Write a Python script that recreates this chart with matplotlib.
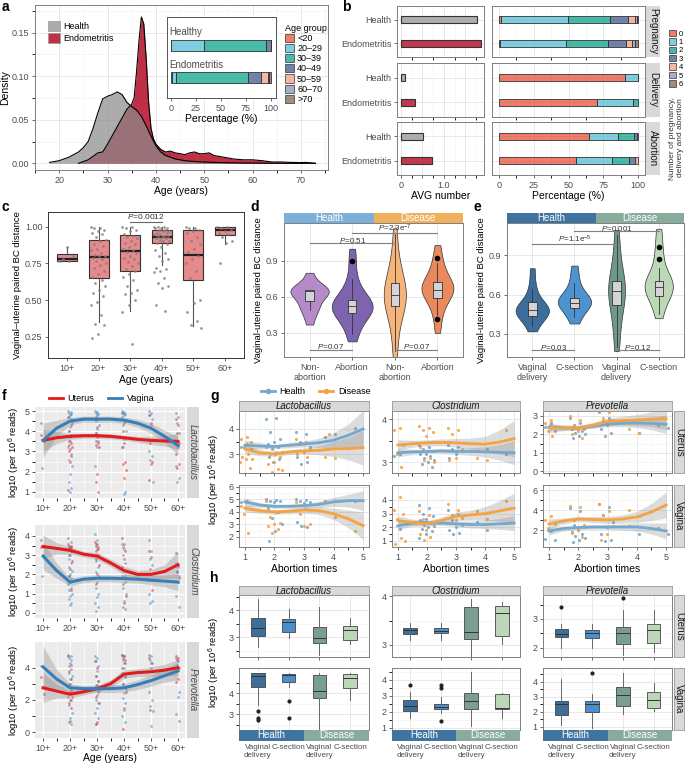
import numpy as np
import matplotlib
matplotlib.use('Agg')
import matplotlib.pyplot as plt
from matplotlib.patches import Patch
from matplotlib.lines import Line2D
from matplotlib.ticker import FixedLocator
from matplotlib.colors import to_rgba

plt.rcParams['font.family'] = ['Liberation Sans', 'DejaVu Sans']
plt.rcParams['mathtext.fontset'] = 'custom'
plt.rcParams['mathtext.rm'] = 'Liberation Sans'
plt.rcParams['mathtext.it'] = 'Liberation Sans:italic'
plt.rcParams['font.size'] = 6.5
plt.rcParams['axes.labelsize'] = 7.5
plt.rcParams['axes.labelpad'] = 2

# ---------------- a: age density + age group share
health_age = [18, 20, 22, 24, 25, 26, 27, 28, 29, 30, 31, 32, 33, 34, 35, 36, 37, 38, 39, 40, 41, 42,
              44, 46, 48, 50, 52, 55, 58, 62, 66, 70, 73]
health_dens = [0.001, 0.003, 0.007, 0.013, 0.018, 0.025, 0.04, 0.058, 0.074, 0.077, 0.079, 0.082,
               0.079, 0.07, 0.065, 0.061, 0.054, 0.043, 0.031, 0.02, 0.013, 0.009,
               0.005, 0.003, 0.002, 0.0015, 0.001, 0.0006, 0.0003, 0.0001, 0, 0, 0]
endo_age = [24, 25, 26, 27, 28, 29, 30, 31, 32, 33, 34, 35, 35.5, 36, 36.5, 37, 37.5, 38, 38.5, 39, 39.5,
            40, 41, 42, 43, 44, 45, 46, 47, 48, 49, 50, 51, 52, 54, 56, 58, 60, 62, 64, 66, 68, 70, 71, 73]
endo_dens = [0, 0.002, 0.004, 0.008, 0.012, 0.013, 0.022, 0.032, 0.042, 0.052, 0.062,
             0.068, 0.075, 0.105, 0.14, 0.168, 0.16, 0.12, 0.07, 0.04, 0.028, 0.022,
             0.016, 0.013, 0.014, 0.012, 0.011, 0.010, 0.012, 0.013, 0.011, 0.011, 0.012, 0.009,
             0.007, 0.005, 0.004, 0.004, 0.003, 0.0015, 0.0015, 0.001, 0.0008, 0.001, 0]
age_groups = ['<20', '20–29', '30–39', '40–49', '50–59', '60–70', '>70']
healthy_age_pct = [0, 32.7, 62.6, 4.7, 0, 0, 0]
endo_age_pct = [1.0, 3.7, 72.3, 13.0, 6.6, 1.7, 1.7]

# ---------------- b: pregnancy / delivery / abortion
b_groups = ['Health', 'Endometritis']
b_facets = ['Pregnancy', 'Delivery', 'Abortion']
avg_preg = [1.77, 1.86]
avg_deliv = [0.10, 0.33]
avg_abort = [0.52, 0.73]
preg_pct_h = [1.2, 48.3, 30.5, 13.0, 5.0, 1.0, 1.0]
preg_pct_e = [0.7, 47.2, 30.6, 12.8, 4.2, 2.4, 2.1]
deliv_pct_h = [90.8, 9.2, 0, 0, 0, 0, 0]
deliv_pct_e = [70.8, 25.7, 3.5, 0, 0, 0, 0]
abort_pct_h = [64.6, 21.0, 11.4, 2.0, 1.0, 0, 0]
abort_pct_e = [55.4, 25.6, 12.4, 4.6, 2.0, 0, 0]
count_labels = ['0', '1', '2', '3', '4', '5', '6']

# ---------------- c: BC distance by age
c_ages = ['10+', '20+', '30+', '40+', '50+', '60+']
c_box = [[0.765, 0.77, 0.78, 0.815, 0.86], [0.35, 0.65, 0.795, 0.91, 1.0], [0.43, 0.70, 0.835, 0.945, 1.0],
         [0.74, 0.89, 0.93, 0.98, 1.0], [0.325, 0.635, 0.81, 0.975, 1.0], [0.88, 0.945, 0.98, 1.0, 1.0]]
c_pts = [[0.77, 0.77, 0.78, 0.80, 0.86],
         [1.0, 0.99, 0.99, 0.98, 0.97, 0.96, 0.95, 0.93, 0.91, 0.9, 0.88, 0.87, 0.85, 0.84, 0.82, 0.81,
          0.8, 0.8, 0.79, 0.78, 0.77, 0.75, 0.74, 0.72, 0.7, 0.68, 0.66, 0.64, 0.62, 0.6, 0.57, 0.55,
          0.53, 0.49, 0.47, 0.4, 0.34, 0.33, 0.27, 0.24],
         [1.0, 1.0, 0.99, 0.98, 0.97, 0.95, 0.94, 0.93, 0.92, 0.9, 0.89, 0.88, 0.86, 0.85, 0.84, 0.83,
          0.82, 0.8, 0.79, 0.78, 0.76, 0.75, 0.73, 0.71, 0.7, 0.68, 0.66, 0.64, 0.6, 0.57, 0.55, 0.54,
          0.5, 0.47, 0.42, 0.2],
         [1.0, 1.0, 1.0, 0.99, 0.99, 0.99, 0.98, 0.98, 0.97, 0.97, 0.96, 0.96, 0.95, 0.95, 0.94, 0.94,
          0.93, 0.93, 0.92, 0.92, 0.91, 0.9, 0.9, 0.89, 0.88, 0.86, 0.84, 0.82, 0.8, 0.78, 0.77, 0.72,
          0.71, 0.7, 0.69, 0.65, 0.62, 0.6, 0.58, 0.47, 0.43],
         [1.0, 0.99, 0.99, 0.98, 0.97, 0.96, 0.93, 0.9, 0.88, 0.85, 0.83, 0.8, 0.78, 0.75, 0.7, 0.65,
          0.5, 0.48, 0.42, 0.36, 0.33, 0.31],
         [1.0, 1.0, 0.99, 0.98, 0.97, 0.96, 0.95, 0.93, 0.9, 0.89, 0.75]]

# ---------------- d: abortion violins
d_labels = ['Non-\nabortion', 'Abortion', 'Non-\nabortion', 'Abortion']
d_samples = [[0.37, 0.45, 0.49, 0.52, 0.55, 0.58, 0.62, 0.64, 0.645, 0.65, 0.655, 0.66, 0.68, 0.72, 0.80],
             [0.23, 0.3, 0.36, 0.41, 0.45, 0.47, 0.49, 0.5, 0.51, 0.52, 0.53, 0.54, 0.55, 0.57, 0.6,
              0.64, 0.7, 0.77, 0.9, 1.0],
             [0.1, 0.25, 0.38, 0.45, 0.5, 0.53, 0.56, 0.59, 0.62, 0.65, 0.68, 0.71, 0.75, 0.8, 0.88,
              0.98, 1.17],
             [0.3, 0.42, 0.5, 0.56, 0.6, 0.63, 0.65, 0.66, 0.67, 0.68, 0.7, 0.72, 0.75, 0.8, 0.86,
              0.92, 1.03]]
d_box = [[0.49, 0.567, 0.645, 0.655, 0.66], [0.29, 0.465, 0.52, 0.57, 0.75],
         [0.15, 0.528, 0.615, 0.713, 1.12], [0.45, 0.59, 0.66, 0.72, 0.88]]
d_out = [[], [0.9], [], [0.92, 0.42]]

# ---------------- e: delivery mode violins
e_labels = ['Vaginal\ndelivery', 'C-section', 'Vaginal\ndelivery', 'C-section']
e_samples = [[0.32, 0.38, 0.42, 0.44, 0.46, 0.47, 0.48, 0.49, 0.5, 0.52, 0.55, 0.6, 0.68, 0.8],
             [0.38, 0.44, 0.48, 0.51, 0.53, 0.54, 0.55, 0.56, 0.58, 0.61, 0.66, 0.73, 0.82],
             [0.17, 0.3, 0.42, 0.5, 0.55, 0.6, 0.63, 0.66, 0.7, 0.75, 0.82, 0.95, 1.09],
             [0.42, 0.52, 0.58, 0.62, 0.65, 0.66, 0.67, 0.69, 0.72, 0.76, 0.87, 0.96, 1.1]]
e_box = [[0.36, 0.44, 0.48, 0.54, 0.64], [0.43, 0.50, 0.535, 0.57, 0.69],
         [0.2, 0.52, 0.63, 0.70, 1.05], [0.45, 0.59, 0.66, 0.70, 0.8]]
e_out = [[], [], [], [0.96, 0.87]]

# ---------------- f: genus abundance by age
genera = ['Lactobacillus', 'Clostridium', 'Prevotella']
f_lac_va = [[4.4, 3.6, 2.2],
            [5.0, 4.95, 4.9, 4.85, 4.8, 4.7, 4.6, 4.5, 4.4, 4.2, 4.0, 3.8, 3.5, 3.2, 2.9, 2.6, 2.3, 1.9, 1.5, 1.2, 1.0],
            [5.0, 4.95, 4.9, 4.85, 4.8, 4.7, 4.6, 4.5, 4.3, 4.1, 3.9, 3.5, 3.2, 2.3],
            [5.0, 4.95, 4.9, 4.85, 4.8, 4.7, 4.5, 4.3, 4.0, 3.6, 3.2, 1.0, 0.9],
            [5.0, 4.9, 4.8, 4.6, 4.3, 3.0, 2.8, 2.6, 1.5],
            [4.9, 4.7, 4.4, 3.9, 3.3, 2.3, 1.7, 1.5]]
f_lac_ut = [[3.8, 3.5],
            [4.7, 4.3, 4.0, 3.8, 3.7, 3.5, 3.4, 3.3, 3.2, 3.1, 3.0, 2.8, 2.5, 1.1],
            [4.6, 4.2, 3.9, 3.8, 3.7, 3.5, 3.4, 3.3, 3.2, 1.9, 1.5, 1.0],
            [4.9, 4.4, 4.0, 3.7, 3.4, 3.2, 2.5, 2.4, 2.1, 1.7],
            [4.8, 4.4, 3.4, 2.5, 2.4, 1.6],
            [4.6, 4.3, 3.9, 3.4, 3.2, 2.9, 2.4, 2.2]]
f_clo_va = [[3.8, 3.4, 1.9],
            [3.9, 3.7, 3.5, 3.2, 3.0, 2.8, 2.6, 2.4, 2.2, 2.0, 1.9, 1.8, 1.6, 1.5, 1.3, 1.2, 1.0, 0.9, 0.7, 0.5, 0.4],
            [4.1, 3.8, 3.6, 3.3, 3.0, 2.7, 2.4, 2.1, 1.9, 1.6, 1.3, 1.0, 0.8, 0.5, 0.3, 0.1],
            [3.6, 3.3, 3.0, 2.6, 2.2, 1.9, 1.6, 1.3, 1.0, 0.6, 0.3, 0.2],
            [3.8, 3.2, 2.8, 2.5, 1.7, 1.0, 0.6, 0.5],
            [2.6, 2.4, 2.2, 1.9, 1.6, 0.9, 0.3]]
f_clo_ut = [[3.45],
            [3.6, 3.5, 3.45, 3.4, 3.35, 3.3, 3.2, 3.0, 2.7, 2.3, 1.9, 1.2],
            [3.7, 3.6, 3.5, 3.4, 3.3, 3.2, 3.0, 2.8, 2.5, 2.0, 1.5],
            [3.9, 3.6, 3.4, 3.2, 2.8, 2.4, 1.9, 1.5, 0.9, 0.5],
            [3.2, 2.9, 2.3, 1.2],
            [3.1, 2.5, 2.1, 1.8]]
f_pre_va = [[4.1],
            [4.8, 4.7, 4.6, 4.5, 4.3, 4.1, 3.9, 3.7, 3.5, 3.3, 3.0, 2.8, 2.5, 2.2, 2.0, 1.7, 1.2, 0.9, 0.6, 0.5],
            [4.7, 4.6, 4.4, 4.1, 3.8, 3.5, 3.2, 2.9, 2.6, 2.3, 2.0, 1.8, 1.5, 1.2, 0.9, 0.5],
            [4.8, 4.7, 4.5, 4.3, 4.0, 3.7, 3.4, 3.0, 2.7, 2.4, 2.1, 1.8, 1.4, 1.0, 0.6],
            [4.8, 4.7, 4.5, 4.3, 4.0, 2.5, 2.0, 1.6, 1.3, 0.4],
            [4.6, 4.4, 4.2, 2.5, 2.2, 1.1, 0.7]]
f_pre_ut = [[3.4, 2.35],
            [4.7, 4.2, 3.8, 3.3, 3.0, 2.8, 2.6, 2.4, 2.2, 2.0, 1.8, 1.5, 0.7],
            [4.4, 4.0, 3.5, 3.2, 2.9, 2.7, 2.5, 2.2, 1.8, 0.6, 0.5],
            [4.8, 4.7, 4.6, 4.5, 4.3, 4.0, 3.5, 3.0, 2.5, 1.5, 0.2],
            [4.6, 4.3, 1.4],
            [4.7, 4.6, 4.5, 4.0, 3.3, 3.1]]
# smooth fits read at ages 10+ ... 60+ in half steps
f_lac_ut_fit = [3.55, 3.68, 3.75, 3.78, 3.78, 3.75, 3.68, 3.6, 3.55, 3.52, 3.5]
f_lac_ut_ci = [0.55, 0.3, 0.15, 0.12, 0.12, 0.12, 0.12, 0.15, 0.2, 0.25, 0.4]
f_lac_va_fit = [3.55, 4.15, 4.5, 4.6, 4.6, 4.6, 4.55, 4.4, 4.15, 3.75, 3.3]
f_lac_va_ci = [0.85, 0.4, 0.18, 0.15, 0.15, 0.15, 0.15, 0.2, 0.25, 0.3, 0.45]
f_clo_ut_fit = [3.45, 3.35, 3.25, 3.05, 2.95, 2.6, 2.2, 2.0, 2.0, 2.15, 2.5]
f_clo_ut_ci = [0.6, 0.3, 0.2, 0.15, 0.18, 0.2, 0.22, 0.2, 0.25, 0.35, 0.7]
f_clo_va_fit = [2.95, 2.2, 1.6, 1.75, 1.8, 1.8, 1.78, 1.75, 1.7, 1.65, 1.6]
f_clo_va_ci = [0.7, 0.4, 0.2, 0.18, 0.18, 0.18, 0.2, 0.2, 0.25, 0.3, 0.45]
f_pre_ut_fit = [2.75, 2.55, 2.35, 2.5, 2.7, 3.0, 3.6, 3.7, 3.75, 3.85, 4.0]
f_pre_ut_ci = [0.9, 0.45, 0.2, 0.2, 0.2, 0.25, 0.25, 0.25, 0.3, 0.35, 0.5]
f_pre_va_fit = [4.05, 3.3, 2.75, 2.7, 2.7, 2.7, 2.75, 2.95, 3.2, 3.5, 3.8]
f_pre_va_ci = [1.3, 0.6, 0.25, 0.2, 0.22, 0.25, 0.25, 0.3, 0.35, 0.4, 0.55]

# ---------------- g: abundance vs abortion times (values grouped by times 1..5)
g_lac_ut_h = [[3.5, 3.4, 3.3, 3.2], [4.4, 4.45, 3.9, 3.6, 3.5, 3.4, 3.3, 3.2, 3.1, 3.0, 2.9, 2.8, 2.7],
              [3.9, 3.8, 3.5, 3.3, 3.1, 2.9, 2.7, 2.6], [3.7, 3.8], [4.05]]
g_lac_ut_d = [[3.8, 3.7, 3.6, 3.5, 3.3, 3.2, 3.0, 2.9, 2.8, 2.8, 2.7, 2.45],
              [3.3, 3.1, 3.0, 2.9, 2.7, 2.6, 2.4, 2.3, 2.35], [3.6, 3.5, 3.4, 3.2, 3.1, 3.0, 2.9],
              [2.9, 2.85, 3.8], []]
g_clo_ut_h = [[3.3, 3.2, 3.15], [3.4, 3.35, 3.3, 3.25, 3.2, 3.2, 3.15, 3.1, 3.05, 3.0, 2.95, 2.9],
              [3.4, 3.35, 3.3, 3.25, 3.2, 3.1], [3.25, 3.3], [3.2]]
g_clo_ut_d = [[3.85, 3.8, 3.75, 3.4, 3.2, 3.1, 2.9], [3.85, 3.8, 3.75, 3.7, 3.6, 3.35, 3.1, 3.05, 3.0],
              [3.8, 3.75, 3.65, 3.3, 3.1, 3.05], [3.1, 3.05], [3.75]]
g_pre_ut_h = [[2.9, 2.6, 2.4, 2.2], [2.9, 2.6, 2.5, 2.4, 2.35, 2.3, 2.2, 2.1, 2.0, 1.9, 1.8],
              [3.2, 2.9, 2.7, 2.6, 2.5, 2.3, 2.1, 1.9], [3.45, 2.1], [2.5, 2.35]]
g_pre_ut_d = [[3.7, 2.8, 2.6, 2.4, 2.2, 2.0, 1.9], [3.0, 2.8, 2.5, 2.3, 2.2, 2.0, 1.8],
              [3.3, 3.2, 2.9, 2.8, 2.6], [2.3, 2.1], [3.3]]
g_lac_va_h = [[5.0, 4.9, 4.8], [5.0, 4.95, 4.9, 4.85, 4.8, 4.3, 4.0, 3.5, 3.0, 2.5, 1.7],
              [5.0, 4.95, 4.9, 4.8, 4.7, 3.2, 2.8, 2.9], [4.9, 4.85], [4.9]]
g_lac_va_d = [[5.0, 4.8, 4.5, 4.2, 3.8, 2.7, 2.35], [4.9, 4.0, 3.6, 3.1, 3.0, 2.9, 2.6, 2.3],
              [4.8, 4.2, 3.8, 3.0, 2.9], [4.9, 3.6], [2.5]]
g_clo_va_h = [[2.0, 1.9], [3.6, 3.4, 3.0, 2.8, 2.6, 2.5, 2.3, 2.2, 2.1, 2.0, 1.9, 1.7, 1.5, 1.2],
              [3.3, 3.0, 2.5, 2.2, 2.0, 1.8, 1.6, 1.5], [2.4, 1.8], [2.3]]
g_clo_va_d = [[4.5, 4.2, 3.3, 3.0, 2.6, 2.2, 1.2, 0.8, 1.0], [3.2, 2.9, 2.6, 2.3, 1.8, 1.5, 1.3, 1.1],
              [3.7, 3.3, 2.9, 2.7, 2.5], [3.2, 2.6], [3.9]]
g_pre_va_h = [[2.4, 1.9, 1.1, 1.0], [4.2, 3.9, 2.5, 2.3, 2.0, 1.8, 1.6, 1.4, 1.2, 1.0, 0.8],
              [4.6, 4.3, 3.5, 2.8, 2.3, 1.6, 1.0, 0.9], [2.4, 1.6], [2.2, 1.6]]
g_pre_va_d = [[3.8, 3.4, 3.0, 2.6, 2.2, 1.8], [4.4, 4.3, 3.0, 2.5, 2.0, 1.7, 1.3],
              [4.6, 3.9, 3.5, 2.4, 1.6, 1.0], [4.0, 3.4], []]
# smooth fits read at abortion times 1 ... 5 in half steps
g_lac_ut_h_fit = [3.35, 3.32, 3.3, 3.35, 3.4, 3.45, 3.55, 3.75, 4.0]
g_lac_ut_h_ci = [0.2, 0.12, 0.08, 0.1, 0.12, 0.18, 0.3, 0.45, 0.75]
g_lac_ut_d_fit = [3.2, 3.05, 3.0, 3.08, 3.12, 3.15, 3.2, 3.22, 3.25]
g_lac_ut_d_ci = [0.18, 0.12, 0.1, 0.1, 0.12, 0.18, 0.3, 0.45, 0.7]
g_clo_ut_h_fit = [3.22, 3.24, 3.25, 3.26, 3.25, 3.25, 3.24, 3.23, 3.22]
g_clo_ut_h_ci = [0.1, 0.06, 0.05, 0.06, 0.07, 0.09, 0.12, 0.18, 0.28]
g_clo_ut_d_fit = [3.4, 3.43, 3.45, 3.46, 3.45, 3.43, 3.42, 3.47, 3.55]
g_clo_ut_d_ci = [0.12, 0.08, 0.07, 0.08, 0.1, 0.13, 0.18, 0.28, 0.42]
g_pre_ut_h_fit = [2.4, 2.35, 2.35, 2.45, 2.55, 2.6, 2.62, 2.6, 2.55]
g_pre_ut_h_ci = [0.2, 0.12, 0.1, 0.12, 0.14, 0.18, 0.25, 0.35, 0.5]
g_pre_ut_d_fit = [2.35, 2.35, 2.35, 2.5, 2.7, 2.75, 2.78, 2.82, 2.85]
g_pre_ut_d_ci = [0.25, 0.15, 0.12, 0.15, 0.18, 0.22, 0.3, 0.4, 0.6]
g_lac_va_h_fit = [4.8, 4.55, 4.45, 4.45, 4.5, 4.6, 4.8, 4.9, 4.9]
g_lac_va_h_ci = [0.3, 0.18, 0.15, 0.15, 0.18, 0.25, 0.35, 0.5, 0.8]
g_lac_va_d_fit = [4.3, 4.1, 4.0, 4.05, 4.15, 4.1, 3.85, 3.45, 2.9]
g_lac_va_d_ci = [0.3, 0.2, 0.18, 0.2, 0.25, 0.3, 0.45, 0.7, 1.1]
g_clo_va_h_fit = [2.1, 2.3, 2.35, 2.3, 2.25, 2.2, 2.2, 2.25, 2.3]
g_clo_va_h_ci = [0.3, 0.2, 0.15, 0.18, 0.2, 0.25, 0.3, 0.4, 0.55]
g_clo_va_d_fit = [2.5, 2.35, 2.25, 2.5, 2.8, 2.9, 3.0, 3.2, 3.4]
g_clo_va_d_ci = [0.35, 0.25, 0.2, 0.25, 0.3, 0.35, 0.5, 0.75, 1.1]
g_pre_va_h_fit = [1.9, 2.15, 2.25, 2.3, 2.3, 2.3, 2.3, 2.15, 1.9]
g_pre_va_h_ci = [0.4, 0.25, 0.2, 0.22, 0.25, 0.3, 0.4, 0.55, 0.8]
g_pre_va_d_fit = [2.6, 2.9, 3.1, 3.05, 3.0, 3.1, 3.3, 3.8, 4.5]
g_pre_va_d_ci = [0.5, 0.3, 0.25, 0.3, 0.35, 0.4, 0.55, 0.85, 1.3]

# ---------------- h: abundance by delivery mode (whislo, q1, median, q3, whishi)
h_labels = ['Vaginal\ndelivery', 'C-section', 'Vaginal\ndelivery', 'C-section']
h_lac_ut = [[2.63, 3.05, 3.34, 3.72, 4.4], [2.95, 3.2, 3.57, 3.68, 4.03],
            [2.33, 2.77, 2.95, 3.38, 4.12], [2.73, 2.89, 3.26, 3.41, 3.69]]
h_clo_ut = [[3.10, 3.22, 3.30, 3.35, 3.45], [3.10, 3.24, 3.29, 3.35, 3.45],
            [2.78, 3.13, 3.27, 3.79, 3.95], [3.01, 3.19, 3.66, 3.81, 3.88]]
h_pre_ut = [[1.98, 2.36, 2.48, 2.64, 2.83], [1.98, 2.33, 2.50, 2.62, 2.82],
            [1.75, 2.12, 2.50, 2.73, 3.31], [1.86, 2.15, 2.62, 2.82, 3.31]]
h_pre_ut_out = [[3.43], [], [3.72], []]
h_lac_va = [[3.41, 4.30, 4.81, 4.94, 4.97], [4.30, 4.54, 4.86, 4.90, 4.97],
            [2.30, 3.78, 4.10, 4.86, 4.97], [3.67, 4.25, 4.70, 4.90, 4.97]]
h_lac_va_out = [[3.14, 2.82, 2.71], [3.63, 2.82], [], []]
h_clo_va = [[1.6, 2.06, 2.34, 2.74, 3.2], [1.9, 2.14, 2.30, 2.50, 2.9],
            [1.1, 2.14, 2.64, 3.14, 4.46], [1.6, 2.16, 2.2, 3.1, 3.14]]
h_clo_va_out = [[3.66], [3.66, 3.46, 1.4], [], []]
h_pre_va = [[1.09, 1.75, 2.51, 2.69, 4.15], [0.93, 2.0, 2.51, 2.73, 3.15],
            [1.85, 2.4, 3.1, 3.67, 4.6], [2.05, 2.25, 2.78, 3.28, 3.93]]
h_pre_va_out = [[], [4.6], [], []]

# ---------------- colours
npg = ['#E64B35', '#4DBBD5', '#00A087', '#3C5488', '#F39B7F', '#8491B4', '#7E6148']
RED, BLUE = '#E41A1C', '#377EB8'
G_H, G_D = '#74A9CF', '#F4A340'

W, H = 685, 764
fig = plt.figure(figsize=(6.85, 7.64), dpi=100)


def pax(l, t, r, b):
    return fig.add_axes([l / W, 1 - b / H, (r - l) / W, (b - t) / H])


def style_bw(ax, grid=True, spine='#7F7F7F'):
    for s in ax.spines.values():
        s.set_color(spine)
        s.set_linewidth(0.7)
    ax.tick_params(length=2.5, width=0.6, color='#555555', labelsize=6.5, labelcolor='#4D4D4D', pad=1.5)
    if grid:
        ax.grid(True, which='major', color='#E3E3E3', lw=0.6)
        ax.grid(True, which='minor', color='#F0F0F0', lw=0.4)
    ax.set_axisbelow(True)


def style_gray(ax):
    ax.set_facecolor('#EBEBEB')
    for s in ax.spines.values():
        s.set_visible(False)
    ax.tick_params(length=2.5, width=0.6, color='#333333', labelsize=6.5, labelcolor='#4D4D4D', pad=1.5)
    ax.grid(True, which='major', color='white', lw=0.9)
    ax.grid(True, which='minor', color='white', lw=0.45)
    ax.set_axisbelow(True)


def strip(l, t, r, b, label, fc='#D9D9D9', color='#1A1A1A', rot=0, italic=False, edge=None):
    s = pax(l, t, r, b)
    s.set_facecolor(fc)
    s.set_xticks([])
    s.set_yticks([])
    for sp in s.spines.values():
        if edge:
            sp.set_color(edge)
            sp.set_linewidth(0.6)
        else:
            sp.set_visible(False)
    s.text(0.5, 0.5, label, rotation=rot, ha='center', va='center', fontsize=7, color=color,
           style='italic' if italic else 'normal', transform=s.transAxes)
    return s


def make_stats(rows, outs=None):
    return [dict(whislo=r[0], q1=r[1], med=r[2], q3=r[3], whishi=r[4],
                 fliers=(outs[i] if outs else [])) for i, r in enumerate(rows)]


def jit(n, w):
    return ((np.arange(n) * 0.618034) % 1 - 0.5) * w


def scatter_groups(ax, groups, w, **kw):
    xs, ys = [], []
    for p, vals in enumerate(groups, start=1):
        xs.extend(p + jit(len(vals), w))
        ys.extend(vals)
    ax.scatter(xs, ys, **kw)


def letter(x, y, s):
    fig.text(x / W, 1 - y / H, s, fontsize=10, fontweight='bold', va='top', ha='left')


# ================= panel a
ax = pax(35, 5, 328, 170)
style_bw(ax)
ax.fill_between(endo_age, endo_dens, color='#BF2F46', lw=0)
ax.plot(endo_age, endo_dens, color='black', lw=0.8)
ax.fill_between(health_age, health_dens, color='#8C8C8C', alpha=0.72, lw=0)
ax.plot(health_age, health_dens, color='black', lw=0.8)
ax.set_xlim(15.0, 75.6)
ax.set_ylim(-0.0077, 0.1818)
ax.set_xticks(range(20, 71, 10))
ax.xaxis.set_minor_locator(FixedLocator(range(15, 76, 10)))
ax.set_yticks([0, 0.05, 0.10, 0.15])
ax.set_yticklabels(['0.00', '0.05', '0.10', '0.15'])
ax.yaxis.set_minor_locator(FixedLocator([0.025, 0.075, 0.125, 0.175]))
ax.set_xlabel('Age (years)', labelpad=1)
ax.set_ylabel('Density', labelpad=1)
ax.legend(handles=[Patch(fc='#ACACAC', ec='#999999', lw=0.5), Patch(fc='#BF2F46', ec='#999999', lw=0.5)],
          labels=['Health', 'Endometritis'], loc='upper left', bbox_to_anchor=(48 / W, 1 - 21 / H),
          bbox_transform=fig.transFigure, frameon=False, fontsize=6.5, handlelength=1.3,
          handleheight=1.3, labelspacing=0.2, borderpad=0, borderaxespad=0, handletextpad=0.4)

ai = pax(167, 17, 276, 98)
style_bw(ai, grid=False, spine='#555555')
hl = np.concatenate([[0], np.cumsum(healthy_age_pct)[:-1]])
el = np.concatenate([[0], np.cumsum(endo_age_pct)[:-1]])
for k, c in enumerate(npg):
    ai.barh([0.35, 0.75], [healthy_age_pct[k], endo_age_pct[k]], left=[hl[k], el[k]], height=0.13,
            color=to_rgba(c, 0.72), edgecolor='#333333', lw=0.6)
ai.set_ylim(1, 0)
ai.set_xlim(-4, 105)
ai.set_yticks([])
ai.set_xticks([0, 25, 50, 75, 100])
ai.text(-1.5, 0.19, 'Healthy', fontsize=7, color='#4D4D4D', va='center')
ai.text(-1.5, 0.59, 'Endometritis', fontsize=7, color='#4D4D4D', va='center')
ai.set_xlabel('Percentage (%)', labelpad=1)
fig.legend(handles=[Patch(fc=to_rgba(c, 0.72), ec='#333333', lw=0.5) for c in npg], labels=age_groups,
           title='Age group', loc='upper left', bbox_to_anchor=(280 / W, 1 - 19 / H), frameon=False,
           fontsize=6.5, title_fontsize=6.5, handlelength=1.0, handleheight=1.0, labelspacing=0.12,
           handletextpad=0.4, borderpad=0, alignment='left')

# ================= panel b
b_avg = [avg_preg, avg_deliv, avg_abort]
b_pct = [[preg_pct_h, preg_pct_e], [deliv_pct_h, deliv_pct_e], [abort_pct_h, abort_pct_e]]
b_rows = [(6, 57), (63, 117), (122, 175)]
for i, (t, bt) in enumerate(b_rows):
    aL = pax(397, t, 484, bt)
    style_bw(aL)
    aL.barh([1, 2], b_avg[i], height=0.3, color=['#ADADAD', '#C0394F'], edgecolor='#333333', lw=0.8)
    aL.set_ylim(2.6, 0.4)
    aL.set_yticks([1, 2])
    aL.set_yticklabels(b_groups)
    aL.set_xlim(-0.09, 1.93)
    aL.set_xticks([0, 0.5, 1.0, 1.5])
    aL.set_xticklabels(['0', '', '1.0', ''])
    aL.xaxis.set_minor_locator(FixedLocator([0.25, 0.75, 1.25, 1.75]))
    aR = pax(492, t, 645, bt)
    style_bw(aR)
    lefts = [0.0, 0.0]
    for k, c in enumerate(npg):
        vals = [b_pct[i][0][k], b_pct[i][1][k]]
        if sum(vals) > 0:
            aR.barh([1, 2], vals, left=lefts, height=0.3, color=to_rgba(c, 0.72),
                    edgecolor='#333333', lw=0.6)
        lefts = [lefts[0] + vals[0], lefts[1] + vals[1]]
    aR.set_ylim(2.6, 0.4)
    aR.set_yticks([1, 2])
    aR.tick_params(left=False, labelleft=False)
    aR.set_xlim(-5, 105)
    aR.set_xticks([0, 25, 50, 75, 100])
    aR.xaxis.set_minor_locator(FixedLocator([12.5, 37.5, 62.5, 87.5]))
    if i < 2:
        aL.tick_params(bottom=False, labelbottom=False)
        aR.tick_params(bottom=False, labelbottom=False)
    else:
        aL.set_xlabel('AVG number', labelpad=1)
        aR.set_xlabel('Percentage (%)', labelpad=1)
    strip(646, t, 660, bt, b_facets[i], rot=-90)
fig.legend(handles=[Patch(fc=to_rgba(c, 0.72), ec='#333333', lw=0.5) for c in npg], labels=count_labels,
           loc='upper left', bbox_to_anchor=(665 / W, 1 - 26 / H), frameon=False, fontsize=5.5,
           handlelength=0.9, handleheight=0.9, labelspacing=0.08, handletextpad=0.4, borderpad=0)
fig.text(676 / W, 1 - 138 / H, 'Number of pregnancy,\ndelivery and abortion', rotation=90, fontsize=6,
         ha='center', va='center', color='#333333')

# ================= panel c
ac = pax(48, 212, 244, 358)
style_bw(ac, grid=False, spine='#333333')
ac.bxp(make_stats(c_box), positions=range(1, 7), widths=0.63, patch_artist=True, showcaps=False,
       showfliers=False, boxprops=dict(facecolor='#E8898C', edgecolor='#333333', lw=0.8),
       whiskerprops=dict(color='#555555', lw=0.8), medianprops=dict(color='#222222', lw=1.6))
scatter_groups(ac, c_pts, 0.5, color='#808080', s=4, alpha=0.8, lw=0, zorder=3)
ac.set_xlim(0.4, 6.6)
ac.set_ylim(0.107, 1.10)
ac.set_xticks(range(1, 7))
ac.set_xticklabels(c_ages)
ac.set_yticks([0.25, 0.5, 0.75, 1.0])
ac.set_yticklabels(['0.25', '0.50', '0.75', '1.00'])
ac.plot([3, 4], [1.035, 1.035], color='#666666', lw=0.8)
ac.text(3.5, 1.04, r'$\it{P}$=0.0012', ha='center', va='bottom', fontsize=6, color='#333333')
ac.set_xlabel('Age (years)', labelpad=2)
ac.set_ylabel('Vaginal–uterine paired BC distance', fontsize=6.8, labelpad=2)


# ================= panels d, e
def violin_panel(l, t, r, b, samples, vwidths, vcols, box_rows, box_out, xlabels, scols, slabels,
                 brackets, ylim):
    ax = pax(l, t, r, b)
    style_bw(ax)
    vp = ax.violinplot(samples, positions=[1, 2, 3, 4], widths=vwidths, showextrema=False, bw_method=0.5)
    for body, c in zip(vp['bodies'], vcols):
        body.set_facecolor(c)
        body.set_edgecolor('#333333')
        body.set_linewidth(0.5)
        body.set_alpha(1)
    ax.bxp(make_stats(box_rows, box_out), positions=[1, 2, 3, 4], widths=0.2, patch_artist=True,
           showcaps=False, boxprops=dict(facecolor='#D4D4D8', edgecolor='#333333', lw=0.6),
           whiskerprops=dict(color='#333333', lw=0.6), medianprops=dict(color='#333333', lw=0.6),
           flierprops=dict(marker='o', mfc='black', mec='black', ms=3))
    for x1, x2, y, txt in brackets:
        ax.plot([x1, x2], [y, y], color='#7F7F7F', lw=0.8)
        ax.text((x1 + x2) / 2, y - 0.012, txt, ha='center', va='bottom', fontsize=5.8, color='#333333')
    ax.set_xlim(0.4, 4.6)
    ax.set_ylim(*ylim)
    ax.set_xticks([1, 2, 3, 4])
    ax.set_xticklabels(xlabels)
    ax.set_yticks([0.3, 0.6, 0.9])
    ax.set_ylabel('Vaginal-uterine paired BC distance', fontsize=6.8, labelpad=2)
    mid = l + (2.5 - 0.4) / 4.2 * (r - l)
    strip(l, t - 10, mid, t, slabels[0], fc=scols[0], color='white')
    strip(mid, t - 10, r, t, slabels[1], fc=scols[1], color='white')
    return ax


violin_panel(284, 223, 463, 357, d_samples, [0.9, 0.96, 0.52, 0.75],
             ['#B48AC8', '#7E63AE', '#F6B37A', '#E9895C'], d_box, d_out, d_labels,
             ['#7DB0D8', '#F0B05E'], ['Health', 'Disease'],
             [(1, 2, 0.16, r'$\it{P}$=0.07'), (3, 4, 0.16, r'$\it{P}$=0.07'),
              (1, 3, 1.046, r'$\it{P}$=0.51'), (2, 4, 1.135, r'$\it{P}$=2.3e$^{-7}$')], (0.10, 1.214))
violin_panel(507, 223, 684, 357, e_samples, [0.79, 0.79, 0.4, 0.67],
             ['#3B6E9C', '#4C93CF', '#70988A', '#BCD8B5'], e_box, e_out, e_labels,
             ['#3E73A0', '#88AB9C'], ['Health', 'Disease'],
             [(1, 2, 0.178, r'$\it{P}$=0.03'), (3, 4, 0.178, r'$\it{P}$=0.12'),
              (1, 3, 0.986, r'$\it{P}$=1.1e$^{-5}$'), (2, 4, 1.08, r'$\it{P}$=0.001')], (0.125, 1.144))

# ================= panel f
f_grid = np.arange(1, 6.01, 0.5)
f_ut = [f_lac_ut, f_clo_ut, f_pre_ut]
f_va = [f_lac_va, f_clo_va, f_pre_va]
f_ut_fit = [(f_lac_ut_fit, f_lac_ut_ci), (f_clo_ut_fit, f_clo_ut_ci), (f_pre_ut_fit, f_pre_ut_ci)]
f_va_fit = [(f_lac_va_fit, f_lac_va_ci), (f_clo_va_fit, f_clo_va_ci), (f_pre_va_fit, f_pre_va_ci)]
f_rows = [(407, 498), (525, 618), (642, 738)]
f_ylims = [(0.7, 5.2), (-0.27, 4.57), (-0.37, 5.6)]
f_yticks = [[1, 2, 3, 4, 5], [0, 1, 2, 3, 4], [0, 2, 4]]
for i, (t, bt) in enumerate(f_rows):
    ax = pax(35, t, 185, bt)
    style_gray(ax)
    scatter_groups(ax, f_ut[i], 0.14, color=RED, s=4, alpha=0.5, lw=0)
    scatter_groups(ax, f_va[i], 0.14, color=BLUE, s=4, alpha=0.5, lw=0)
    for (fit, ci), col in ((f_ut_fit[i], RED), (f_va_fit[i], BLUE)):
        fit, ci = np.array(fit), np.array(ci)
        ax.fill_between(f_grid, fit - ci, fit + ci, color='#8C8C8C', alpha=0.35, lw=0)
        ax.plot(f_grid, fit, color=col, lw=2.2)
    ax.set_xlim(0.7, 6.26)
    ax.set_ylim(*f_ylims[i])
    ax.set_xticks(range(1, 7))
    ax.set_xticklabels(c_ages)
    ax.xaxis.set_minor_locator(FixedLocator(np.arange(1.5, 6, 1)))
    yt = f_yticks[i]
    ax.set_yticks(yt)
    ax.yaxis.set_minor_locator(FixedLocator([(yt[k] + yt[k + 1]) / 2 for k in range(len(yt) - 1)]))
    ax.set_ylabel('log10 (per 10$^6$ reads)', fontsize=6.8, labelpad=2)
    strip(187, t, 199, bt, genera[i], rot=-90, italic=True, color='#4D4D4D')
    if i == 2:
        ax.set_xlabel('Age (years)', labelpad=0.5)
fig.legend(handles=[Line2D([], [], color=RED, lw=2), Line2D([], [], color=BLUE, lw=2)],
           labels=['Uterus', 'Vagina'], ncol=2, loc='center left', bbox_to_anchor=(44 / W, 1 - 399 / H),
           frameon=False, fontsize=6.5, handlelength=1.6, columnspacing=1.5, handletextpad=0.5,
           borderpad=0)

# ================= panel g
t_grid = np.arange(1, 5.01, 0.5)
g_cols = [(239, 369), (392, 520), (543, 672)]
g_rows = [(411, 473), (485, 547)]
g_h = [[g_lac_ut_h, g_clo_ut_h, g_pre_ut_h], [g_lac_va_h, g_clo_va_h, g_pre_va_h]]
g_d = [[g_lac_ut_d, g_clo_ut_d, g_pre_ut_d], [g_lac_va_d, g_clo_va_d, g_pre_va_d]]
g_hfit = [[(g_lac_ut_h_fit, g_lac_ut_h_ci), (g_clo_ut_h_fit, g_clo_ut_h_ci), (g_pre_ut_h_fit, g_pre_ut_h_ci)],
          [(g_lac_va_h_fit, g_lac_va_h_ci), (g_clo_va_h_fit, g_clo_va_h_ci), (g_pre_va_h_fit, g_pre_va_h_ci)]]
g_dfit = [[(g_lac_ut_d_fit, g_lac_ut_d_ci), (g_clo_ut_d_fit, g_clo_ut_d_ci), (g_pre_ut_d_fit, g_pre_ut_d_ci)],
          [(g_lac_va_d_fit, g_lac_va_d_ci), (g_clo_va_d_fit, g_clo_va_d_ci), (g_pre_va_d_fit, g_pre_va_d_ci)]]
g_ylims = [[(2.24, 4.72), (2.75, 4.19), (-0.1, 3.27)], [(1.2, 6.15), (0.55, 5.1), (0.3, 6.5)]]
g_yticks = [[[3, 4], [3, 4], [0, 1, 2, 3]], [[2, 3, 4, 5, 6], [1, 2, 3, 4], [2, 4, 6]]]
tissues = ['Uterus', 'Vagina']
for r, (t, bt) in enumerate(g_rows):
    for c, (l, rr) in enumerate(g_cols):
        ax = pax(l, t, rr, bt)
        style_bw(ax)
        scatter_groups(ax, g_h[r][c], 0.55, color=G_H, s=5, alpha=0.9, lw=0)
        scatter_groups(ax, g_d[r][c], 0.55, color=G_D, s=5, alpha=0.9, lw=0)
        for (fit, ci), col in ((g_hfit[r][c], G_H), (g_dfit[r][c], G_D)):
            fit, ci = np.array(fit), np.array(ci)
            ax.fill_between(t_grid, fit - ci, fit + ci, color='#8C8C8C', alpha=0.3, lw=0)
            ax.plot(t_grid, fit, color=col, lw=2)
        ax.set_xlim(0.8, 5.2)
        ax.set_ylim(*g_ylims[r][c])
        ax.set_xticks([1, 2, 3, 4, 5])
        ax.xaxis.set_minor_locator(FixedLocator(np.arange(1.5, 5, 1)))
        yt = g_yticks[r][c]
        ax.set_yticks(yt)
        ax.yaxis.set_minor_locator(FixedLocator([(yt[k] + yt[k + 1]) / 2 for k in range(len(yt) - 1)]))
        if r == 0:
            ax.tick_params(labelbottom=False)
            strip(l, 401, rr, 411, genera[c], italic=True, color='#1A1A1A', edge='#999999')
        else:
            ax.set_xlabel('Abortion times', labelpad=1.5)
    strip(674, t, 684, bt, tissues[r], rot=-90, edge='#999999')
fig.text(214 / W, 1 - 479 / H, 'log10 (per 10$^6$ reads)', rotation=90, fontsize=6.8, ha='center', va='center')
fig.legend(handles=[Line2D([], [], color=G_H, lw=2, marker='o', ms=3),
                    Line2D([], [], color=G_D, lw=2, marker='o', ms=3)],
           labels=['Health', 'Disease'], ncol=2, loc='center left', bbox_to_anchor=(256 / W, 1 - 392 / H),
           frameon=False, fontsize=6.5, handlelength=1.6, columnspacing=1.5, handletextpad=0.5, borderpad=0)

# ================= panel h
h_rows = [(595, 657), (668, 730)]
h_stats = [[(h_lac_ut, None), (h_clo_ut, None), (h_pre_ut, h_pre_ut_out)],
           [(h_lac_va, h_lac_va_out), (h_clo_va, h_clo_va_out), (h_pre_va, h_pre_va_out)]]
h_ylims = [[(2.26, 4.56), (2.75, 4.03), (1.67, 3.84)], [(2.24, 5.19), (0.85, 4.72), (0.78, 4.9)]]
h_yticks = [[[3, 4], [3, 4], [2, 3]], [[3, 4], [1, 2, 3, 4], [1, 2, 3, 4]]]
h_cols = ['#3D6F99', '#4A8FC9', '#7A9E90', '#BCD7B8']
for r, (t, bt) in enumerate(h_rows):
    for c, (l, rr) in enumerate(g_cols):
        ax = pax(l, t, rr, bt)
        style_bw(ax)
        rows, outs = h_stats[r][c]
        bp = ax.bxp(make_stats(rows, outs), positions=[1, 2, 3, 4], widths=0.45, patch_artist=True,
                    showcaps=False, boxprops=dict(edgecolor='#444444', lw=0.6),
                    whiskerprops=dict(color='#666666', lw=0.7), medianprops=dict(color='#333333', lw=0.7),
                    flierprops=dict(marker='o', mfc='#222222', mec='#222222', ms=2))
        for patch, col in zip(bp['boxes'], h_cols):
            patch.set_facecolor(col)
        ax.set_xlim(0.4, 4.6)
        ax.set_ylim(*h_ylims[r][c])
        ax.set_xticks([1, 2, 3, 4])
        ax.tick_params(labelbottom=False)
        yt = h_yticks[r][c]
        ax.set_yticks(yt)
        ax.yaxis.set_minor_locator(FixedLocator([yt[0] - 0.5] + [(yt[k] + yt[k + 1]) / 2 for k in range(len(yt) - 1)] + [yt[-1] + 0.5]))
        if r == 0:
            strip(l, 586, rr, 595, genera[c], italic=True, color='#1A1A1A', edge='#999999')
        else:
            mid = l + (2.5 - 0.4) / 4.2 * (rr - l)
            strip(l, 730, mid, 741, 'Health', fc='#3F74A0', color='white')
            strip(mid, 730, rr, 741, 'Disease', fc='#88AB9C', color='white')
            lab = pax(l, 741, rr, 742)
            lab.set_xlim(0.4, 4.6)
            lab.set_xticks([1, 2, 3, 4])
            lab.set_xticklabels(h_labels)
            lab.set_yticks([])
            lab.tick_params(length=0, labelsize=5.8, labelcolor='#4D4D4D', pad=1.5)
            for sp in lab.spines.values():
                sp.set_visible(False)
            lab.patch.set_alpha(0)
    strip(674, t, 684, bt, tissues[r], rot=-90, edge='#999999')
fig.text(214 / W, 1 - 662 / H, 'log10 (per 10$^6$ reads)', rotation=90, fontsize=6.8, ha='center', va='center')

for x, y, s in [(2, 0, 'a'), (342, 0, 'b'), (2, 200, 'c'), (250, 200, 'd'), (474, 200, 'e'),
                (2, 389, 'f'), (210, 389, 'g'), (210, 571, 'h')]:
    letter(x, y, s)

fig.savefig('out.png', dpi=100)
